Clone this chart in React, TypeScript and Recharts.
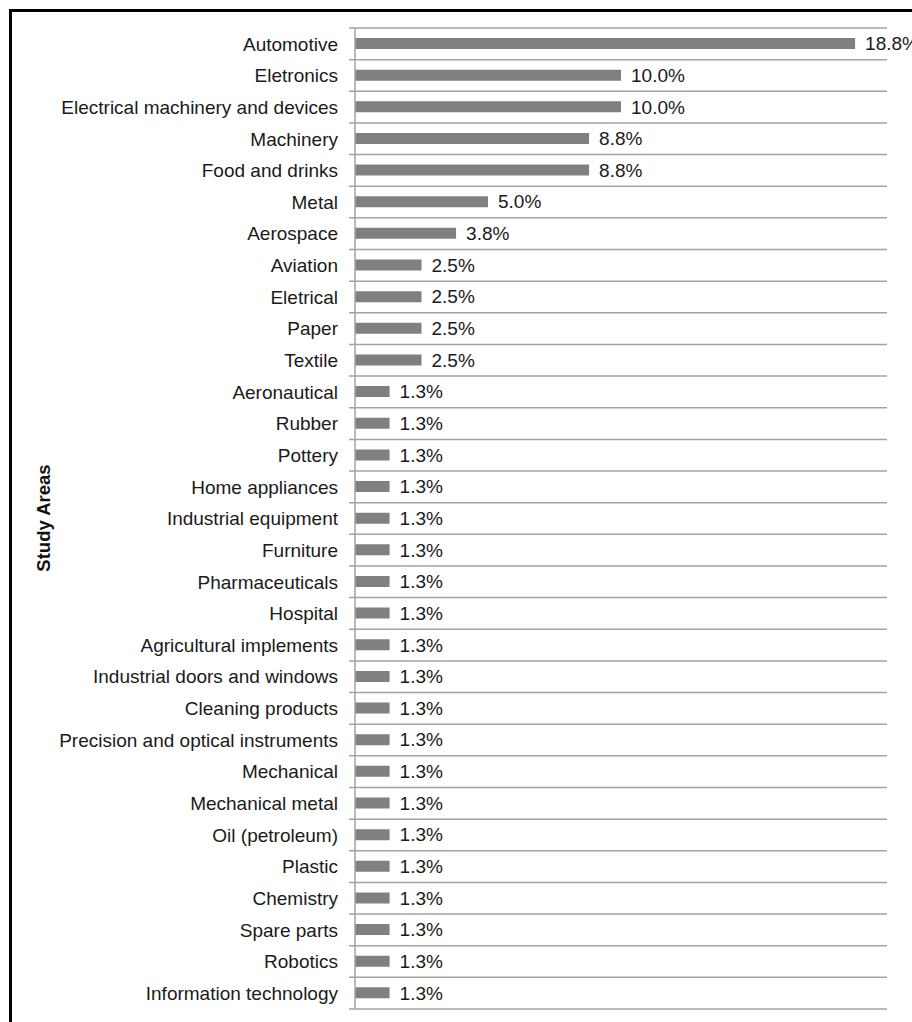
import React from "react";
import { BarChart, Bar, XAxis, YAxis, CartesianGrid, LabelList } from "recharts";

const categories = [
  "Automotive",
  "Eletronics",
  "Electrical machinery and devices",
  "Machinery",
  "Food and drinks",
  "Metal",
  "Aerospace",
  "Aviation",
  "Eletrical",
  "Paper",
  "Textile",
  "Aeronautical",
  "Rubber",
  "Pottery",
  "Home appliances",
  "Industrial equipment",
  "Furniture",
  "Pharmaceuticals",
  "Hospital",
  "Agricultural implements",
  "Industrial doors and windows",
  "Cleaning products",
  "Precision and optical instruments",
  "Mechanical",
  "Mechanical metal",
  "Oil (petroleum)",
  "Plastic",
  "Chemistry",
  "Spare parts",
  "Robotics",
  "Information technology",
];

const shares = [
  18.8, 10.0, 10.0, 8.8, 8.8, 5.0, 3.8, 2.5, 2.5, 2.5, 2.5,
  1.3, 1.3, 1.3, 1.3, 1.3, 1.3, 1.3, 1.3, 1.3, 1.3, 1.3, 1.3, 1.3, 1.3, 1.3, 1.3, 1.3, 1.3, 1.3, 1.3,
];

const axisTitle = "Study Areas";
const xDomain: [number, number] = [0, 20];

const data = categories.map((name, i) => ({ name, value: shares[i] }));

const FONT = "Arial, 'Liberation Sans', sans-serif";
const GRID = "#a3a3a3";
const FS = 19;

export default function App() {
  const W = 912;
  const H = 1022;
  const margin = { top: 28, right: 25, bottom: 13, left: 0 };
  return (
    <div
      style={{
        position: "absolute",
        left: 0,
        top: 0,
        width: W,
        height: H,
        background: "#fff",
        overflow: "hidden",
        fontFamily: FONT,
      }}
    >
      <div
        style={{
          position: "absolute",
          left: 9,
          top: 9,
          width: W,
          height: H,
          borderTop: "3px solid #000",
          borderLeft: "3px solid #000",
          boxSizing: "border-box",
        }}
      />
      <div
        style={{
          position: "absolute",
          left: 44,
          top: 518,
          transform: "translate(-50%, -50%) rotate(-90deg)",
          fontWeight: 700,
          fontSize: 18.5,
          color: "#111",
          whiteSpace: "nowrap",
        }}
      >
        {axisTitle}
      </div>
      <div style={{ position: "absolute", left: 0, top: 0 }}>
        <BarChart width={W} height={H} data={data} layout="vertical" margin={margin}>
          <CartesianGrid
            vertical={false}
            horizontalCoordinatesGenerator={(props: any) => {
              const off = props.offset;
              const n = categories.length;
              const ys: number[] = [];
              for (let i = 0; i <= n; i++) ys.push(off.top + (off.height * i) / n);
              return ys;
            }}
            horizontal={(p: any) => (
              <line
                key={`g-${p.index ?? p.y1}`}
                x1={p.x1 - 6}
                y1={p.y1}
                x2={p.x2}
                y2={p.y2}
                stroke={GRID}
                strokeWidth={1.5}
              />
            )}
          />
          <XAxis type="number" domain={xDomain} hide />
          <YAxis
            type="category"
            dataKey="name"
            width={355}
            interval={0}
            tickLine={false}
            tickSize={0}
            tickMargin={17}
            axisLine={{ stroke: GRID, strokeWidth: 1.5 }}
            tick={{ fill: "#1a1a1a", fontSize: FS, fontFamily: FONT }}
          />
          <Bar dataKey="value" fill="#808080" barSize={11} isAnimationActive={false}>
            <LabelList
              dataKey="value"
              position="right"
              offset={10}
              fill="#1a1a1a"
              fontSize={FS}
              fontFamily={FONT}
              formatter={(v: any) => `${Number(v).toFixed(1)}%`}
            />
          </Bar>
        </BarChart>
      </div>
    </div>
  );
}
